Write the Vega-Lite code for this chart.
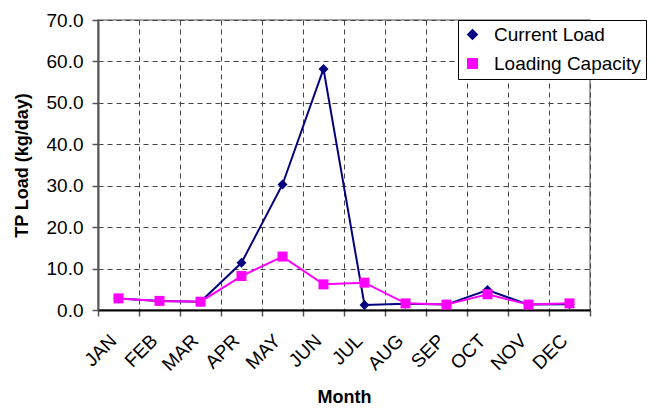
{
  "$schema": "https://vega.github.io/schema/vega-lite/v6.json",
  "width": 492,
  "height": 290,
  "autosize": {"type": "none"},
  "padding": {"left": 98, "top": 20, "right": 78, "bottom": 99},
  "background": "white",
  "config": {
    "font": "Liberation Sans",
    "view": {"stroke": "#888888", "strokeWidth": 1.5},
    "axis": {
      "labelFont": "Liberation Sans",
      "labelFontSize": 19,
      "labelColor": "black",
      "titleFont": "Liberation Sans",
      "titleFontSize": 18,
      "titleFontWeight": "bold",
      "titleColor": "black",
      "gridDash": [5, 4],
      "gridColor": "#444444",
      "gridWidth": 1,
      "tickSize": 6,
      "tickColor": "#555555",
      "tickWidth": 1.5
    },
    "legend": {
      "orient": "none",
      "legendX": 360,
      "legendY": 0,
      "fillColor": "white",
      "strokeColor": "black",
      "padding": 5,
      "labelFont": "Liberation Sans",
      "labelFontSize": 19,
      "labelColor": "black",
      "symbolSize": 90,
      "labelOffset": 12,
      "rowPadding": 9
    }
  },
  "data": {
    "values": [
      {"month": "JAN", "series": "Current Load", "value": 2.8},
      {"month": "FEB", "series": "Current Load", "value": 2.2},
      {"month": "MAR", "series": "Current Load", "value": 2.0},
      {"month": "APR", "series": "Current Load", "value": 11.4},
      {"month": "MAY", "series": "Current Load", "value": 30.3},
      {"month": "JUN", "series": "Current Load", "value": 58.2},
      {"month": "JUL", "series": "Current Load", "value": 1.2},
      {"month": "AUG", "series": "Current Load", "value": 1.5},
      {"month": "SEP", "series": "Current Load", "value": 1.3},
      {"month": "OCT", "series": "Current Load", "value": 4.8},
      {"month": "NOV", "series": "Current Load", "value": 1.3},
      {"month": "DEC", "series": "Current Load", "value": 1.4},
      {"month": "JAN", "series": "Loading Capacity", "value": 2.8},
      {"month": "FEB", "series": "Loading Capacity", "value": 2.2},
      {"month": "MAR", "series": "Loading Capacity", "value": 2.0},
      {"month": "APR", "series": "Loading Capacity", "value": 8.2},
      {"month": "MAY", "series": "Loading Capacity", "value": 12.9},
      {"month": "JUN", "series": "Loading Capacity", "value": 6.2},
      {"month": "JUL", "series": "Loading Capacity", "value": 6.6},
      {"month": "AUG", "series": "Loading Capacity", "value": 1.6},
      {"month": "SEP", "series": "Loading Capacity", "value": 1.3},
      {"month": "OCT", "series": "Loading Capacity", "value": 3.8},
      {"month": "NOV", "series": "Loading Capacity", "value": 1.3},
      {"month": "DEC", "series": "Loading Capacity", "value": 1.6}
    ]
  },
  "encoding": {
    "x": {
      "field": "month",
      "type": "nominal",
      "scale": {
        "type": "band",
        "domain": ["JAN", "FEB", "MAR", "APR", "MAY", "JUN", "JUL", "AUG", "SEP", "OCT", "NOV", "DEC"],
        "paddingInner": 0,
        "paddingOuter": 0
      },
      "axis": {
        "title": "Month",
        "grid": true,
        "labelAngle": -45,
        "tickBand": "extent",
        "domainColor": "black",
        "domainWidth": 2,
        "labelPadding": 15,
        "labelOffset": -12,
        "titleY": 87,
        "titleBaseline": "middle"
      }
    },
    "y": {
      "field": "value",
      "type": "quantitative",
      "scale": {"domain": [0, 70], "nice": false},
      "axis": {
        "title": "TP Load (kg/day)",
        "values": [0, 10, 20, 30, 40, 50, 60, 70],
        "format": ".1f",
        "domainColor": "#555555",
        "domainWidth": 2,
        "labelPadding": 9,
        "titleX": -76,
        "titleBaseline": "middle"
      }
    }
  },
  "layer": [
    {
      "mark": {"type": "line", "strokeWidth": 2},
      "encoding": {
        "color": {
          "field": "series",
          "type": "nominal",
          "scale": {"domain": ["Current Load", "Loading Capacity"], "range": ["#000080", "#FF00FF"]},
          "legend": {"title": null}
        }
      }
    },
    {
      "mark": {"type": "point", "filled": true, "size": 100, "opacity": 1},
      "encoding": {
        "color": {
          "field": "series",
          "type": "nominal",
          "legend": {"title": null}
        },
        "shape": {
          "field": "series",
          "type": "nominal",
          "scale": {"domain": ["Current Load", "Loading Capacity"], "range": ["diamond", "square"]},
          "legend": {"title": null}
        }
      }
    }
  ]
}
